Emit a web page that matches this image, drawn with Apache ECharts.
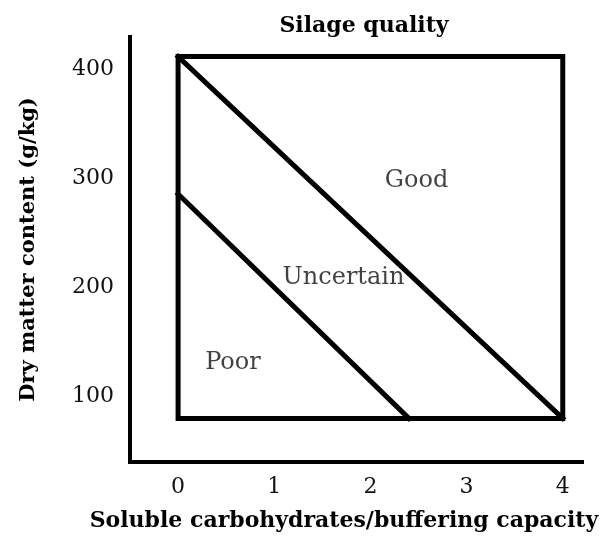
<!DOCTYPE html>
<html>
<head>
<meta charset="utf-8">
<script src="https://cdn.jsdelivr.net/npm/echarts@6/dist/echarts.min.js"></script>
<style>
  html, body { margin: 0; padding: 0; background: #fff; }
  #chart { width: 603px; height: 542px; }
</style>
</head>
<body>
<div id="chart"></div>
<script>
  // tick labels
  var xTicks = [0, 1, 2, 3, 4];
  var yTicks = [100, 200, 300, 400];
  // outer frame of the quality diagram
  var boxX = [0, 4, 4, 0, 0];
  var boxY = [80, 80, 412, 412, 80];
  // boundary lines
  var upperX = [0, 4];
  var upperY = [412, 80];
  var lowerX = [0, 2.4];
  var lowerY = [286, 80];
  // zone labels
  var zoneNames = ['Good', 'Uncertain', 'Poor'];
  var zoneX = [2.48, 1.72, 0.57];
  var zoneY = [298, 209, 131];

  var serif = 'DejaVu Serif';

  function pairs(xs, ys) {
    return xs.map(function (x, i) { return [x, ys[i]]; });
  }

  var lineStyle = { color: '#000', width: 5, cap: 'square', join: 'miter' };

  var myChart = echarts.init(document.getElementById('chart'));
  var option = {
    animation: false,
    backgroundColor: '#fff',
    title: {
      text: 'Silage quality',
      left: 359,
      top: 10,
      textAlign: 'center',
      textStyle: { fontFamily: serif, fontWeight: 'bold', fontSize: 22, color: '#000' }
    },
    grid: { left: 130, right: 21, top: 37, bottom: 80 },
    xAxis: {
      type: 'value',
      min: -0.5,
      max: 4.2,
      name: 'Soluble carbohydrates/buffering capacity',
      nameLocation: 'middle',
      nameGap: 48,
      nameTextStyle: { fontFamily: serif, fontWeight: 'bold', fontSize: 22, color: '#000', padding: [0, 24, 0, 0] },
      axisLine: { onZero: false, lineStyle: { color: '#000', width: 4, cap: 'square' } },
      axisTick: { show: false },
      splitLine: { show: false },
      axisLabel: {
        customValues: xTicks,
        margin: 14,
        fontFamily: serif,
        fontSize: 22,
        color: '#111'
      }
    },
    yAxis: {
      type: 'value',
      min: 40,
      max: 430,
      name: 'Dry matter content (g/kg)',
      nameLocation: 'middle',
      nameGap: 91,
      nameTextStyle: { fontFamily: serif, fontWeight: 'bold', fontSize: 21, color: '#000' },
      axisLine: { onZero: false, lineStyle: { color: '#000', width: 4, cap: 'square' } },
      axisTick: { show: false },
      splitLine: { show: false },
      axisLabel: {
        customValues: yTicks,
        margin: 16,
        fontFamily: serif,
        fontSize: 22,
        color: '#111'
      }
    },
    series: [
      {
        name: 'frame',
        type: 'line',
        data: pairs(boxX, boxY),
        symbol: 'none',
        lineStyle: lineStyle
      },
      {
        name: 'upper',
        type: 'line',
        data: pairs(upperX, upperY),
        symbol: 'none',
        lineStyle: lineStyle
      },
      {
        name: 'lower',
        type: 'line',
        data: pairs(lowerX, lowerY),
        symbol: 'none',
        lineStyle: lineStyle
      },
      {
        name: 'zones',
        type: 'scatter',
        symbolSize: 0,
        data: zoneNames.map(function (n, i) { return { name: n, value: [zoneX[i], zoneY[i]] }; }),
        label: {
          show: true,
          position: 'inside',
          formatter: '{b}',
          fontFamily: serif,
          fontSize: 24,
          color: '#111'
        }
      }
    ]
  };
  myChart.setOption(option);
</script>
</body>
</html>
